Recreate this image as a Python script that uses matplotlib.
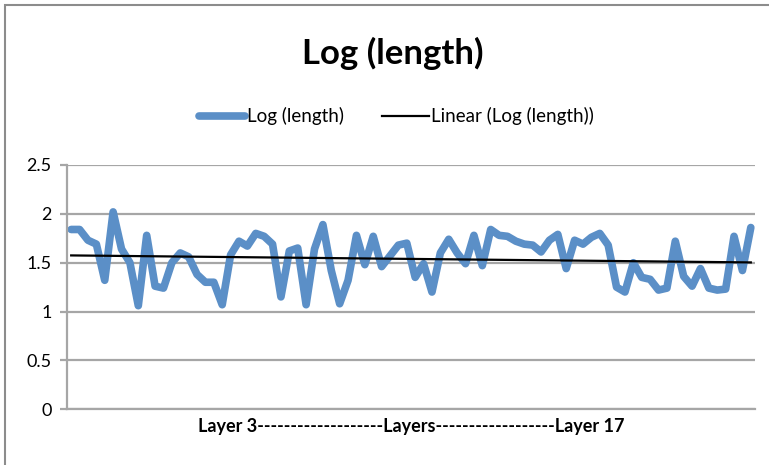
import numpy as np
import matplotlib
matplotlib.use("Agg")
import matplotlib.pyplot as plt
from matplotlib.patches import Rectangle

# valores (82 puntos)
log_length = [
    1.84, 1.84, 1.73, 1.69, 1.32, 2.02, 1.64, 1.50, 1.06, 1.78,
    1.26, 1.24, 1.50, 1.60, 1.56, 1.38, 1.30, 1.30, 1.07, 1.58,
    1.72, 1.67, 1.80, 1.77, 1.69, 1.15, 1.62, 1.65, 1.07, 1.64,
    1.89, 1.42, 1.08, 1.32, 1.78, 1.48, 1.77, 1.46, 1.57, 1.68,
    1.70, 1.35, 1.49, 1.20, 1.60, 1.74, 1.60, 1.49, 1.78, 1.47,
    1.84, 1.78, 1.77, 1.72, 1.69, 1.68, 1.61, 1.73, 1.79, 1.44,
    1.73, 1.69, 1.76, 1.80, 1.68, 1.25, 1.20, 1.50, 1.35, 1.33,
    1.22, 1.24, 1.72, 1.36, 1.26, 1.44, 1.24, 1.22, 1.23, 1.77,
    1.42, 1.86,
]
y_ticks = [0, 0.5, 1, 1.5, 2, 2.5]
y_tick_labels = ["0", "0.5", "1", "1.5", "2", "2.5"]
x_label = "Layer 3" + "-" * 19 + "Layers" + "-" * 18 + "Layer 17"
title = "Log (length)"

plt.rcParams['font.family'] = ['Lato', 'DejaVu Sans']

x = np.arange(len(log_length))
y = np.array(log_length)

# linea de tendencia lineal (como en Excel)
coef = np.polyfit(x, y, 1)
trend = np.polyval(coef, x)

fig = plt.figure(figsize=(7.69, 4.65), dpi=100)
ax = fig.add_axes([0.0871, 0.1198, 0.8947, 0.5254])

ax.plot(x, y, color='#5b8fc7', linewidth=5.5, solid_joinstyle='round',
        solid_capstyle='round', label="Log (length)")
ax.plot(x, trend, color='black', linewidth=1.6, label="Linear (Log (length))")

ax.set_xlim(-0.5, len(log_length) - 0.5)
ax.set_ylim(0, 2.5)
ax.set_yticks(y_ticks)
ax.set_yticklabels(y_tick_labels, fontsize=13)
ax.set_xticks([])
ax.grid(axis='y', color='#a6a6a6', linewidth=1.6)
ax.set_axisbelow(True)
for s in ['top', 'right']:
    ax.spines[s].set_visible(False)
ax.spines['left'].set_color('#a6a6a6')
ax.spines['left'].set_linewidth(1.6)
ax.spines['bottom'].set_color('#a6a6a6')
ax.spines['bottom'].set_linewidth(1.6)
ax.tick_params(axis='y', length=5, width=1.6, color='#a6a6a6', pad=6)

ax.set_xlabel(x_label, fontsize=13, fontweight='bold', labelpad=6)

fig.text(0.511, 0.885, title, ha='center', va='center', fontsize=25, fontweight='bold')

fig.legend(loc='center', bbox_to_anchor=(0.515, 0.75), ncol=2, frameon=False,
           fontsize=13.5, handlelength=2.5, handletextpad=0.1, columnspacing=2.0)

# borde del grafico
fig.patches.append(Rectangle((0.007, -0.01), 1.0, 1.0, transform=fig.transFigure,
                             fill=False, edgecolor='#8c8c8c', linewidth=1.5))

plt.savefig("out.png", dpi=100)
